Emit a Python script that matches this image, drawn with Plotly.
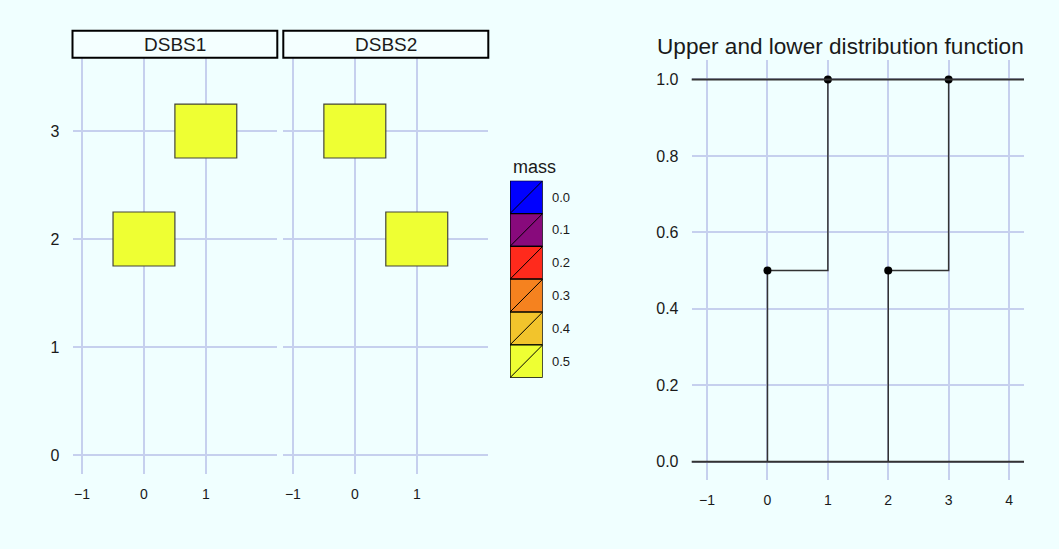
import plotly.graph_objects as go

# ---------------- data ----------------
facets = ["DSBS1", "DSBS2"]
dsbs1_x = [0, 1]
dsbs1_y = [2, 3]
dsbs1_mass = [0.5, 0.5]
dsbs2_x = [0, 1]
dsbs2_y = [3, 2]
dsbs2_mass = [0.5, 0.5]

mass_levels = [0.0, 0.1, 0.2, 0.3, 0.4, 0.5]
mass_colors = ["#0000FF", "#880A7C", "#FF2A1C", "#F5821F", "#F2C42C", "#EEFF33"]

upper_jump_x = [0, 1]
upper_jump_y = [0.5, 1.0]
lower_jump_x = [2, 3]
lower_jump_y = [0.5, 1.0]
ref_levels = [0.0, 1.0]

left_xticks = [-1, 0, 1]
left_yticks = [0, 1, 2, 3]
right_xticks = [-1, 0, 1, 2, 3, 4]
right_yticks = [0.0, 0.2, 0.4, 0.6, 0.8, 1.0]

title_text = "Upper and lower distribution function"
legend_title = "mass"

# ---------------- style ----------------
W, H = 1059, 549
BG = "#F0FFFF"
STRIP_BG = "#F4FFFF"
GRID = "#C6D0EE"
FONT = "Liberation Sans, Arial, sans-serif"
TXT = "#1a1a1a"
LINE = "#333333"

def px(p):
    return p / W

def py(p):
    return 1 - p / H

fig = go.Figure()

# ---------------- axes ----------------
left_dom_y = [py(474), py(57.7)]
right_dom_y = [py(480), py(60)]
xr_left = [-1.155, 2.155]
yr_left = [-0.176, 3.679]

common_x = dict(showgrid=True, gridcolor=GRID, gridwidth=1.5, zeroline=False,
                showline=False, ticks="outside", ticklen=7, tickcolor="rgba(0,0,0,0)",
                tickfont=dict(family=FONT, size=14, color=TXT))
common_y = dict(showgrid=True, gridcolor=GRID, gridwidth=1.5, zeroline=False,
                showline=False, ticks="outside", ticklen=9, tickcolor="rgba(0,0,0,0)",
                tickfont=dict(family=FONT, size=16, color=TXT))

fig.update_layout(
    xaxis=dict(domain=[px(72.5), px(277.3)], range=xr_left, tickvals=left_xticks,
               anchor="y", **common_x),
    yaxis=dict(domain=left_dom_y, range=yr_left, tickvals=left_yticks,
               anchor="x", **common_y),
    xaxis2=dict(domain=[px(283.3), px(488.3)], range=xr_left, tickvals=left_xticks,
                anchor="y2", **common_x),
    yaxis2=dict(domain=left_dom_y, range=yr_left, tickvals=left_yticks,
                anchor="x2", showticklabels=False, matches="y", **common_y),
    xaxis3=dict(domain=[px(691.7), px(1024)], range=[-1.255, 4.248], tickvals=right_xticks,
                anchor="y3", **common_x),
    yaxis3=dict(domain=right_dom_y, range=[-0.048, 1.051], tickvals=right_yticks,
                tickformat=".1f", anchor="x3", **common_y),
    xaxis4=dict(domain=[px(510), px(542.7)], range=[0, 1], visible=False, anchor="y4"),
    yaxis4=dict(domain=[py(377.7), py(180.7)], range=[len(mass_levels), 0],
                visible=False, anchor="x4"),
)

shapes = []
annotations = []

# ---------------- facet rectangles ----------------
half_w, half_h = 0.5, 0.25
color_for = dict(zip(mass_levels, mass_colors))
facet_data = [(dsbs1_x, dsbs1_y, dsbs1_mass, "x", "y"),
              (dsbs2_x, dsbs2_y, dsbs2_mass, "x2", "y2")]
for xs, ys, ms, xr, yr in facet_data:
    for xv, yv, mv in zip(xs, ys, ms):
        shapes.append(dict(type="rect", xref=xr, yref=yr,
                           x0=xv - half_w, x1=xv + half_w,
                           y0=yv - half_h, y1=yv + half_h,
                           fillcolor=color_for[mv],
                           line=dict(color="#44443a", width=1.2), layer="above"))
    fig.add_trace(go.Scatter(x=xs, y=ys, mode="markers", marker=dict(opacity=0),
                             xaxis=xr, yaxis=yr, showlegend=False, hoverinfo="skip"))

# ---------------- strips ----------------
strip_x = [(72.5, 277.3), (283.3, 488.3)]
for name, (a, b) in zip(facets, strip_x):
    shapes.append(dict(type="rect", xref="paper", yref="paper",
                       x0=px(a), x1=px(b), y0=py(57.7), y1=py(30.7),
                       fillcolor=STRIP_BG, line=dict(color="black", width=2)))
    annotations.append(dict(text=name, xref="paper", yref="paper",
                            x=px((a + b) / 2), y=py(44.5), xanchor="center",
                            yanchor="middle", showarrow=False,
                            font=dict(family=FONT, size=19, color=TXT)))

# ---------------- legend ----------------
for i, (lv, col) in enumerate(zip(mass_levels, mass_colors)):
    shapes.append(dict(type="rect", xref="x4", yref="y4", x0=0, x1=1, y0=i, y1=i + 1,
                       fillcolor=col, line=dict(color="black", width=1.3)))
    shapes.append(dict(type="line", xref="x4", yref="y4", x0=0, x1=1, y0=i + 1, y1=i,
                       line=dict(color="black", width=1)))
    annotations.append(dict(text=f"{lv:.1f}", xref="x4", yref="y4", x=1, y=i + 0.5,
                            xanchor="left", yanchor="middle", xshift=7, showarrow=False,
                            font=dict(family=FONT, size=13, color=TXT)))
annotations.append(dict(text=legend_title, xref="x4", yref="y4", x=0, y=0,
                        xanchor="left", yanchor="bottom", xshift=1, yshift=2,
                        showarrow=False, font=dict(family=FONT, size=18, color=TXT)))
fig.add_trace(go.Scatter(x=[0], y=[0], mode="markers", marker=dict(opacity=0),
                         xaxis="x4", yaxis="y4", showlegend=False, hoverinfo="skip"))

# ---------------- distribution functions ----------------
for lv in ref_levels:
    shapes.append(dict(type="line", xref="x3 domain", yref="y3", x0=0, x1=1, y0=lv, y1=lv,
                       line=dict(color=LINE, width=2), layer="above"))

def step_path(jx, jy):
    xs, ys = [], []
    prev = 0.0
    for xv, yv in zip(jx, jy):
        xs += [xv, xv]
        ys += [prev, yv]
        prev = yv
    return xs, ys

for jx, jy in [(upper_jump_x, upper_jump_y), (lower_jump_x, lower_jump_y)]:
    sx, sy = step_path(jx, jy)
    fig.add_trace(go.Scatter(x=sx, y=sy, mode="lines", line=dict(color=LINE, width=1.5),
                             xaxis="x3", yaxis="y3", showlegend=False, hoverinfo="skip"))
    fig.add_trace(go.Scatter(x=jx, y=jy, mode="markers",
                             marker=dict(color="black", size=8),
                             xaxis="x3", yaxis="y3", showlegend=False))

annotations.append(dict(text=title_text, xref="paper", yref="paper", x=px(655), y=py(47),
                        xanchor="left", yanchor="middle", showarrow=False,
                        font=dict(family=FONT, size=22.6, color=TXT)))

fig.update_layout(width=W, height=H, margin=dict(l=0, r=0, t=0, b=0),
                  paper_bgcolor=BG, plot_bgcolor=BG, shapes=shapes,
                  annotations=annotations, showlegend=False)

fig.write_html("out.html",
               config={"displayModeBar": False},
               post_script="document.body.style.margin='0';"
                           "document.body.style.background='" + BG + "';")
